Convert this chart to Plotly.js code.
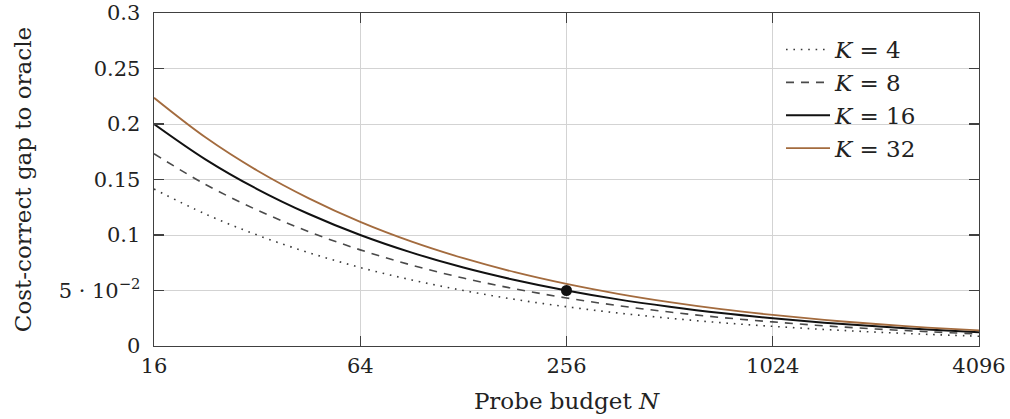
<!DOCTYPE html>
<html>
<head>
<meta charset="utf-8">
<script src="https://cdn.plot.ly/plotly-3.0.1.min.js"></script>
<style>html,body{margin:0;padding:0;background:#fff;}#chart{width:1010px;height:419px;}</style>
</head>
<body>
<div id="chart"></div>
<script>
// Probe budget N (log2 axis)
const budgetN = [16, 22.6, 32, 45.3, 64, 90.5, 128, 181, 256, 362, 512, 724, 1024, 1448, 2048, 2896, 4096];
// Cost-correct gap to oracle, per K
const gapK4  = [0.1414, 0.1189, 0.1000, 0.0841, 0.0707, 0.0595, 0.0500, 0.0420, 0.0354, 0.0297, 0.0250, 0.0210, 0.0177, 0.0149, 0.0125, 0.0105, 0.0088];
const gapK8  = [0.1732, 0.1456, 0.1225, 0.1030, 0.0866, 0.0728, 0.0612, 0.0515, 0.0433, 0.0364, 0.0306, 0.0257, 0.0217, 0.0182, 0.0153, 0.0129, 0.0108];
const gapK16 = [0.2000, 0.1682, 0.1414, 0.1189, 0.1000, 0.0841, 0.0707, 0.0595, 0.0500, 0.0420, 0.0354, 0.0297, 0.0250, 0.0210, 0.0177, 0.0149, 0.0125];
const gapK32 = [0.2236, 0.1880, 0.1581, 0.1330, 0.1118, 0.0940, 0.0791, 0.0665, 0.0559, 0.0470, 0.0395, 0.0332, 0.0280, 0.0235, 0.0198, 0.0166, 0.0140];
const seriesNames = ['<i>K</i> = 4', '<i>K</i> = 8', '<i>K</i> = 16', '<i>K</i> = 32'];
// Highlighted point
const markN = [256];
const markGap = [0.05];
// Tick labels
const xTickVals = [16, 64, 256, 1024, 4096];
const xTickText = ['16', '64', '256', '1024', '4096'];
const yTickVals = [0, 0.05, 0.1, 0.15, 0.2, 0.25, 0.3];
const yTickText = ['0', '5 · 10<sup>−2</sup>', '0.1', '0.15', '0.2', '0.25', '0.3'];

const FONT = "'DejaVu Serif', serif";
const gray = '#404040';

const traces = [
  {x: budgetN, y: gapK4, name: seriesNames[0], mode: 'lines', line: {color: '#3a3a3a', width: 1.6, dash: '1.6px,5.8px', shape: 'spline'}},
  {x: budgetN, y: gapK8, name: seriesNames[1], mode: 'lines', line: {color: '#4a4a4a', width: 1.6, dash: '8px,7px', shape: 'spline'}},
  {x: budgetN, y: gapK16, name: seriesNames[2], mode: 'lines', line: {color: '#111111', width: 2, shape: 'spline'}},
  {x: budgetN, y: gapK32, name: seriesNames[3], mode: 'lines', line: {color: '#a36b3e', width: 1.8, shape: 'spline'}},
  {x: markN, y: markGap, mode: 'markers', showlegend: false, marker: {color: '#111111', size: 11}}
];

const layout = {
  width: 1010, height: 419,
  margin: {l: 154, r: 31, t: 13, b: 73},
  paper_bgcolor: '#fff', plot_bgcolor: '#fff',
  font: {family: FONT, size: 21, color: '#222'},
  showlegend: true,
  legend: {x: 0.76, y: 0.955, xanchor: 'left', yanchor: 'top', bgcolor: 'rgba(255,255,255,0)', borderwidth: 0, font: {family: FONT, size: 23, color: '#222'}, itemwidth: 44},
  xaxis: {
    type: 'log', range: [Math.log10(16), Math.log10(4096)],
    tickvals: xTickVals, ticktext: xTickText,
    showgrid: true, gridcolor: '#d3d3d3', gridwidth: 1,
    showline: true, linecolor: gray, linewidth: 1.4, mirror: 'allticks',
    ticks: 'inside', ticklen: 10, tickcolor: gray, tickwidth: 1.4,
    tickfont: {family: FONT, size: 21, color: '#222'},
    ticklabeloverflow: 'allow',
    zeroline: false,
    title: {text: 'Probe budget <i>N</i>', font: {family: FONT, size: 23, color: '#222'}, standoff: 16}
  },
  yaxis: {
    range: [0, 0.3],
    tickvals: yTickVals, ticktext: yTickText,
    showgrid: true, gridcolor: '#d3d3d3', gridwidth: 1,
    showline: true, linecolor: gray, linewidth: 1.4, mirror: 'allticks',
    ticks: 'inside', ticklen: 10, tickcolor: gray, tickwidth: 1.4,
    tickfont: {family: FONT, size: 21, color: '#222'},
    ticklabelstandoff: 8,
    ticklabeloverflow: 'allow',
    zeroline: false,
    title: {text: 'Cost-correct gap to oracle', font: {family: FONT, size: 23, color: '#222'}, standoff: 20}
  }
};

Plotly.newPlot('chart', traces, layout, {staticPlot: true, displayModeBar: false});
</script>
</body>
</html>
